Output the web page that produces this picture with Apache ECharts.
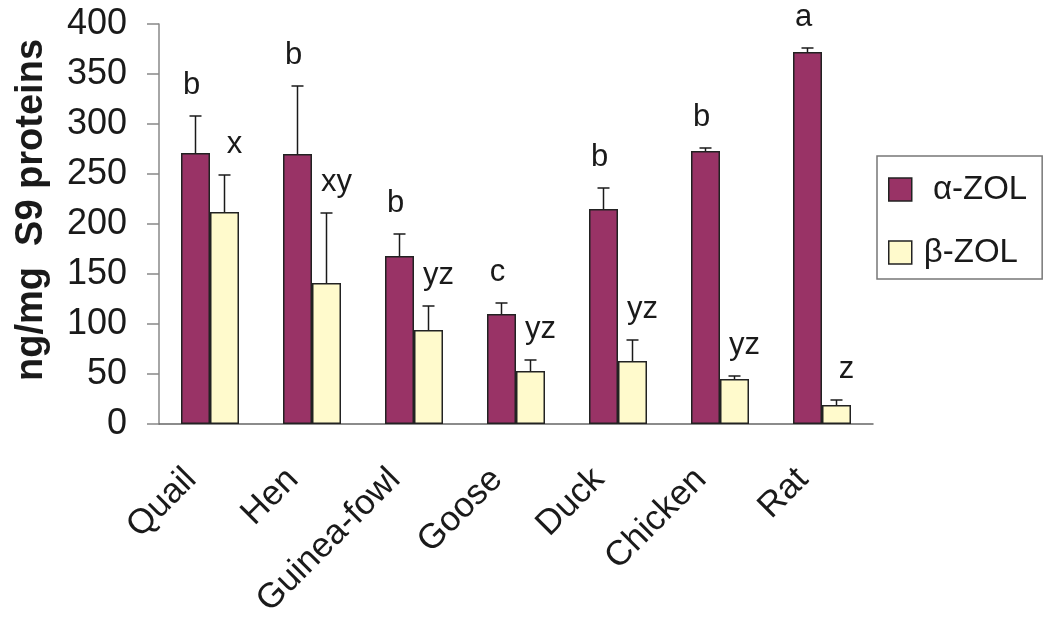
<!DOCTYPE html>
<html>
<head>
<meta charset="utf-8">
<script src="https://cdn.jsdelivr.net/npm/echarts@6/dist/echarts.min.js"></script>
<style>html,body{margin:0;padding:0;background:#fff}#c{width:1043px;height:621px}</style>
</head>
<body>
<div id="c"></div>
<script>
const categories = ['Quail', 'Hen', 'Guinea-fowl', 'Goose', 'Duck', 'Chicken', 'Rat'];
const alphaValues = [271, 270, 168, 110, 215, 273, 372];
const alphaErrors = [37, 68, 22, 11, 21, 3, 4];
const alphaLetters = ['b', 'b', 'b', 'c', 'b', 'b', 'a'];
const betaValues = [212, 141, 94, 53, 63, 45, 19];
const betaErrors = [37, 70, 24, 11, 21, 3, 5];
const betaLetters = ['x', 'xy', 'yz', 'yz', 'yz', 'yz', 'z'];
const yTicks = [0, 50, 100, 150, 200, 250, 300, 350, 400];

const FONT = '"Liberation Sans", Arial, sans-serif';
const BAR_W = 29;

function errSeries(values, errors, letters, offset, labelDx) {
  return {
    type: 'custom',
    silent: true,
    z: 5,
    data: values.map((v, i) => [i, v, errors[i]]),
    encode: { x: 0, y: 1 },
    renderItem: function (params, api) {
      const i = api.value(0);
      const v = api.value(1);
      const e = api.value(2);
      const base = api.coord([i, v]);
      const top = api.coord([i, v + e]);
      const x = base[0] + offset;
      const cap = 6;
      return {
        type: 'group',
        children: [
          { type: 'line', shape: { x1: x, y1: base[1], x2: x, y2: top[1] }, style: { stroke: '#1a1a1a', lineWidth: 1.5 } },
          { type: 'line', shape: { x1: x - cap, y1: top[1], x2: x + cap, y2: top[1] }, style: { stroke: '#1a1a1a', lineWidth: 1.5 } },
          { type: 'text', x: x + labelDx, y: top[1] - 15, style: { text: letters[params.dataIndex], font: '31px ' + FONT, fill: '#1a1a1a', textAlign: 'center', textVerticalAlign: 'bottom' } }
        ]
      };
    }
  };
}

const chart = echarts.init(document.getElementById('c'), null, { renderer: 'canvas' });
chart.setOption({
  animation: false,
  backgroundColor: '#fff',
  grid: { left: 159, right: 170, top: 24, bottom: 197, containLabel: false },
  legend: {
    left: 877, top: 156,
    orient: 'vertical',
    icon: 'rect',
    itemWidth: 23, itemHeight: 23, itemGap: 30,
    padding: [17, 15, 10, 11],
    borderColor: '#777', borderWidth: 1.5,
    textStyle: { fontFamily: FONT, fontSize: 33, lineHeight: 23, color: '#1a1a1a', padding: [0, 0, 0, 7] },
    data: [
      { name: 'α-ZOL', itemStyle: { color: '#993366', borderColor: '#222', borderWidth: 1.5 } },
      { name: 'β-ZOL', itemStyle: { color: '#FFFACC', borderColor: '#222', borderWidth: 1.5 } }
    ],
    formatter: function (n) { return n === 'α-ZOL' ? ' ' + n : n; }
  },
  xAxis: {
    type: 'category',
    data: categories,
    axisLine: { lineStyle: { color: '#666', width: 1.5 } },
    axisTick: { show: false },
    axisLabel: {
      rotate: 45, interval: 0, margin: 31, padding: [0, 27, 0, 0],
      fontFamily: FONT, fontSize: 35, color: '#1a1a1a'
    }
  },
  yAxis: {
    type: 'value',
    min: yTicks[0], max: yTicks[yTicks.length - 1], interval: 50,
    name: 'ng/mg  S9 proteins',
    nameLocation: 'middle', nameGap: 108, nameRotate: 90,
    nameTextStyle: { fontFamily: FONT, fontSize: 38, fontWeight: 'bold', color: '#1a1a1a', padding: [0, 0, 0, 28] },
    axisLine: { show: true, lineStyle: { color: '#888', width: 1.5 } },
    axisTick: { show: true, inside: false, length: 12, lineStyle: { color: '#888', width: 1.5 } },
    splitLine: { show: false },
    axisLabel: { margin: 32, fontFamily: FONT, fontSize: 36, color: '#1a1a1a' }
  },
  series: [
    { name: 'α-ZOL', type: 'bar', data: alphaValues, barWidth: BAR_W, barGap: '0%',
      itemStyle: { color: '#993366', borderColor: '#222', borderWidth: 1.5 } },
    { name: 'β-ZOL', type: 'bar', data: betaValues, barWidth: BAR_W, barGap: '0%',
      itemStyle: { color: '#FFFACC', borderColor: '#222', borderWidth: 1.5 } },
    errSeries(alphaValues, alphaErrors, alphaLetters, -BAR_W / 2, -4),
    errSeries(betaValues, betaErrors, betaLetters, BAR_W / 2, 10)
  ]
});
</script>
</body>
</html>
